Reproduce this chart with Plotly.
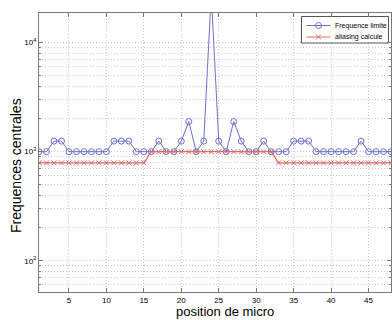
import plotly.graph_objects as go

# Microphone positions along the array
positions = list(range(1, 49))

# Limit frequency per microphone (Hz)
freq_limite = [
    1000, 1000, 1250, 1250, 1000, 1000, 1000, 1000, 1000, 1000,
    1250, 1250, 1250, 1000, 1000, 1000, 1250, 1000, 1000, 1250,
    1890, 1000, 1250, 28000, 1250, 1000, 1890, 1250, 1000, 1000,
    1250, 1000, 1000, 1000, 1250, 1250, 1250, 1000, 1000, 1000,
    1000, 1000, 1000, 1250, 1000, 1000, 1000, 1000,
]

# Computed aliasing frequency per microphone (Hz)
aliasing = [790] * 15 + [1000] * 17 + [790] * 16

series_names = ["Frequence limite", "aliasing calcule"]
x_title = "position de micro"
y_title = "Frequences centrales"

x_ticks = [5, 10, 15, 20, 25, 30, 35, 40, 45]
y_ticks = [100, 1000, 10000]
y_ticktext = ["10<sup>2</sup>", "10<sup>3</sup>", "10<sup>4</sup>"]
y_minor = [m * 10 ** e for e in (1, 2, 3, 4) for m in range(2, 10)]

FONT = "Liberation Sans, Arial, sans-serif"
GRID = "#c8c8c8"
AXIS = "#7a7a7a"
BLUE = "#6f6fd0"
RED = "#e06a6a"
DOTS = "1px,2px"

blue_marker = dict(symbol="circle-open", size=6, color=BLUE, line=dict(width=1, color=BLUE))
red_marker = dict(symbol="x-thin-open", size=5, color=RED, line=dict(width=1, color=RED))

fig = go.Figure()
fig.add_trace(go.Scatter(
    x=positions, y=freq_limite, mode="lines+markers", name=series_names[0],
    line=dict(color=BLUE, width=1), marker=blue_marker,
))
fig.add_trace(go.Scatter(
    x=positions, y=aliasing, mode="lines+markers", name=series_names[1],
    line=dict(color=RED, width=1.2), marker=red_marker,
))

# Compact legend drawn on an overlay axis spanning the plot area (0..1)
W, H = 352.0, 279.0  # plot area size in px
def fx(px):
    return (px - 39.0) / W
def fy(py):
    return (292.0 - py) / H

bx0, bx1, by0, by1 = fx(301.5), fx(388.5), fy(43), fy(16.5)
fig.add_trace(go.Scatter(
    x=[bx0, bx1, bx1, bx0, bx0], y=[by0, by0, by1, by1, by0],
    xaxis="x2", yaxis="y2", mode="lines", fill="toself", fillcolor="white",
    line=dict(color="#555", width=1), showlegend=False, hoverinfo="skip",
))
rows = [fy(25.5), fy(37)]
sample_x = [fx(306.5), fx(318.5), fx(330.5)]
for yy, col, mk in zip(rows, [BLUE, RED], [blue_marker, red_marker]):
    fig.add_trace(go.Scatter(
        x=sample_x, y=[yy] * 3, xaxis="x2", yaxis="y2", mode="lines",
        line=dict(color=col, width=1), showlegend=False, hoverinfo="skip",
    ))
    fig.add_trace(go.Scatter(
        x=[sample_x[1]], y=[yy], xaxis="x2", yaxis="y2", mode="markers",
        marker=mk, showlegend=False, hoverinfo="skip",
    ))

annotations = [
    dict(x=fx(332.5), y=yy, xref="x2", yref="y2", text=name, showarrow=False,
         xanchor="left", yanchor="middle",
         font=dict(size=7, family=FONT, color="black"))
    for name, yy in zip(series_names, rows)
]
# Axis titles
annotations.append(dict(
    x=fx(225), y=fy(311), xref="paper", yref="paper", text=x_title, showarrow=False,
    xanchor="center", yanchor="middle", font=dict(size=13, family=FONT, color="black"),
))
annotations.append(dict(
    x=fx(16), y=fy(166), xref="paper", yref="paper", text=y_title, showarrow=False,
    textangle=-90, xanchor="center", yanchor="middle",
    font=dict(size=14, family=FONT, color="black"),
))

fig.update_layout(
    width=392, height=320,
    margin=dict(l=39, r=1, t=13, b=28),
    paper_bgcolor="white", plot_bgcolor="white",
    font=dict(family=FONT, color="black"),
    showlegend=False,
    annotations=annotations,
    xaxis=dict(
        range=[1, 48], tickmode="array", tickvals=x_ticks,
        ticks="inside", ticklen=4, tickcolor=AXIS,
        showline=True, linecolor=AXIS, linewidth=1, mirror="ticks",
        showgrid=True, gridcolor=GRID, griddash=DOTS, gridwidth=1,
        zeroline=False,
        tickfont=dict(size=8, family=FONT),
    ),
    yaxis=dict(
        type="log", range=[1.713, 4.272],
        tickmode="array", tickvals=y_ticks, ticktext=y_ticktext,
        ticks="inside", ticklen=4, tickcolor=AXIS,
        showline=True, linecolor=AXIS, linewidth=1, mirror="ticks",
        showgrid=True, gridcolor=GRID, griddash=DOTS, gridwidth=1,
        zeroline=False,
        tickfont=dict(size=8, family=FONT),
        minor=dict(
            tickmode="array", tickvals=y_minor,
            ticks="inside", ticklen=2, tickcolor=AXIS,
            showgrid=True, gridcolor=GRID, griddash=DOTS, gridwidth=1,
        ),
    ),
    xaxis2=dict(overlaying="x", range=[0, 1], visible=False, fixedrange=True),
    yaxis2=dict(overlaying="y", range=[0, 1], visible=False, fixedrange=True),
)

fig.write_html("out.html")
